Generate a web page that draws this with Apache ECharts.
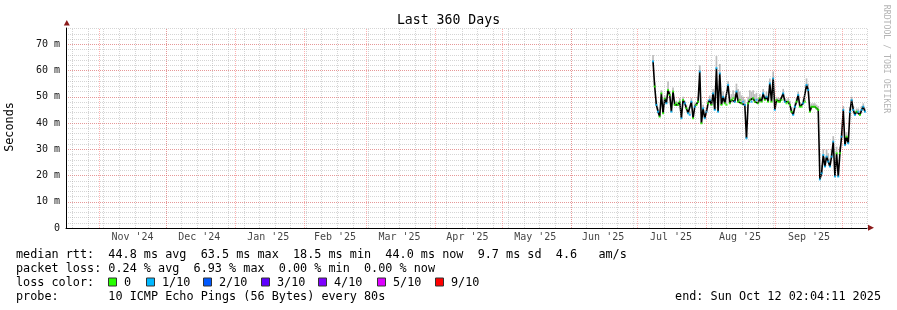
<!DOCTYPE html>
<html><head><meta charset="utf-8">
<script src="https://cdn.jsdelivr.net/npm/echarts@6/dist/echarts.min.js"></script>
<style>html,body{margin:0;padding:0;background:#fff}#c{width:897px;height:310px}</style>
</head><body><div id="c"></div>
<script>
// ---- data ----
const rangeStart = '2024-10-17T02:04:11Z';
const rangeEnd = '2025-10-12T02:04:11Z';
const sampleStart = '2025-07-07T22:00:00Z';
const sampleStepHours = 18;
const medianMs = [
 63.5,53.9,46.9,44.3,42.4,51.3,43.7,49.4,47.5,52.6,50.7,44.3,52.0,46.9,47.5,46.9,
 48.1,41.8,48.8,47.5,45.6,43.7,43.1,48.1,41.8,46.2,46.9,48.1,59.6,39.9,45.6,41.8,
 44.3,47.5,48.8,46.9,51.3,45.0,60.9,44.3,58.9,46.9,50.0,47.5,46.9,54.5,47.5,48.8,
 49.4,48.1,52.0,48.1,48.8,47.5,48.1,46.9,34.2,47.5,48.8,48.1,49.4,48.1,48.8,47.5,
 49.4,48.1,51.3,48.8,50.0,48.1,55.1,48.1,57.0,45.0,48.8,48.1,48.1,48.8,51.3,48.1,
 47.5,48.1,46.9,44.3,43.1,46.2,48.1,50.7,46.2,46.2,47.5,48.1,54.5,52.6,44.3,46.2,
 46.2,46.2,45.6,45.0,18.5,20.8,27.8,23.4,27.2,25.3,23.4,27.2,32.9,19.6,28.5,19.6,
 28.5,34.8,45.0,31.6,34.8,32.3,44.3,48.8,45.0,43.1,44.3,44.3,43.1,45.0,46.2,44.3
];
const smokeHighMs = [
 65.9,55.5,48.5,45.5,43.5,52.5,45.0,50.5,49.0,55.8,52.0,45.5,53.5,48.0,48.5,48.0,
 49.5,43.0,50.0,48.5,47.0,45.0,44.5,49.5,43.0,47.5,48.0,50.0,62.0,41.5,47.0,43.0,
 46.0,49.0,50.5,48.5,53.0,46.5,65.5,46.0,62.5,49.0,52.0,50.0,49.5,56.0,50.0,51.0,
 52.5,51.0,55.0,53.0,52.0,50.5,50.0,49.0,36.0,50.0,52.5,52.0,52.5,51.0,51.5,49.5,
 51.0,50.0,53.0,50.5,52.0,50.0,57.0,50.0,59.6,46.5,50.0,49.5,49.5,50.0,53.0,49.5,
 49.0,49.5,48.5,46.0,44.5,47.5,49.5,52.0,48.0,47.5,49.0,49.5,57.0,55.0,46.0,47.5,
 47.5,47.5,47.0,46.5,21.0,24.0,30.0,27.0,30.0,28.5,26.5,30.0,35.0,23.0,31.0,23.0,
 31.0,37.0,46.5,33.5,36.5,34.0,46.0,50.0,46.5,44.5,45.5,45.5,44.5,46.5,47.5,45.5
];
// loss class per sample: 0 = no loss, 1 = 1/10
const lossClass = [
 1,0,1,1,0,0,0,0,1,0,0,1,0,0,0,0,0,1,0,1,0,1,1,1,0,1,0,0,1,0,1,1,
 1,0,1,0,1,1,1,1,1,0,1,0,0,1,0,0,0,1,1,0,0,0,1,1,1,0,0,1,0,0,1,0,
 0,0,1,0,1,0,1,0,1,1,0,0,0,0,1,1,0,0,0,0,1,1,0,1,0,0,1,0,1,1,0,0,
 0,0,0,0,1,1,1,1,1,1,1,1,1,1,0,1,0,1,1,1,0,1,1,1,1,1,0,1,0,1,1,1
];
const monthStarts = ['2024-11-01','2024-12-01','2025-01-01','2025-02-01','2025-03-01','2025-04-01',
 '2025-05-01','2025-06-01','2025-07-01','2025-08-01','2025-09-01','2025-10-01'];
const monthLabelDates = ['2024-11-16','2024-12-16','2025-01-16','2025-02-15','2025-03-16','2025-04-15T12:00',
 '2025-05-16','2025-06-15T12:00','2025-07-16','2025-08-16','2025-09-16'];
const monthLabels = ["Nov '24","Dec '24","Jan '25","Feb '25","Mar '25","Apr '25","May '25","Jun '25","Jul '25","Aug '25","Sep '25"];
const firstWeekLine = '2024-10-20';
const lossLegendLabels = ['0','1/10','2/10','3/10','4/10','5/10','9/10'];
const lossColors = ['#26ff00','#00b8ff','#0059ff','#5e00ff','#7e00ff','#dd00ff','#ff0000'];
const statLines = [
 'median rtt:  44.8 ms avg  63.5 ms max  18.5 ms min  44.0 ms now  9.7 ms sd  4.6   am/s',
 'packet loss: 0.24 % avg  6.93 % max  0.00 % min  0.00 % now',
 'loss color:',
 'probe:       10 ICMP Echo Pings (56 Bytes) every 80s'
];
const endText = 'end: Sun Oct 12 02:04:11 2025';
const titleText = 'Last 360 Days';
const yAxisName = 'Seconds';
const yMaxMs = 76.2;

// ---- build ----
const toTs = s => { const d = s.length === 10 ? s + 'T00:00:00Z' : (s.endsWith('Z') ? s : s + ':00Z'); return Date.parse(d); };
const t0 = Date.parse(sampleStart), stepMs = sampleStepHours * 3600e3;
const times = medianMs.map((_, i) => t0 + i * stepMs);
const medianData = medianMs.map((v, i) => [times[i], v]);
const smokeData = medianMs.map((v, i) => [times[i], v, smokeHighMs[i]]);
const lossData = medianMs.map((v, i) => ({ value: [times[i], v], itemStyle: { color: lossColors[lossClass[i]] } }));
const endTs = Date.parse(rangeEnd);
const weekLines = [];
for (let t = toTs(firstWeekLine); t < endTs; t += 7 * 86400e3) weekLines.push({ xAxis: t });
const monthLines = monthStarts.map(s => ({ xAxis: toTs(s) }));
const monthLabelData = monthLabelDates.map((s, i) => ({ value: [toTs(s), 0], name: monthLabels[i] }));

const MONO = 'DejaVu Sans Mono';
const legendFont = '11.8px "DejaVu Sans Mono"';
const minorGrid = 'rgba(150,150,150,0.40)';
const majorGrid = 'rgba(255,60,60,0.40)';
const graphics = [];
graphics.push({ type: 'text', x: 10, y: 127, rotation: Math.PI / 2,
  style: { text: yAxisName, font: legendFont, fill: '#000', textAlign: 'center', textVerticalAlign: 'middle', align: 'center', verticalAlign: 'middle' } });
graphics.push({ type: 'text', x: 886, y: 59, rotation: -Math.PI / 2,
  style: { text: 'RRDTOOL / TOBI OETIKER', font: '8.2px "DejaVu Sans Mono"', fill: '#b4b4b4', textAlign: 'center', textVerticalAlign: 'middle', align: 'center', verticalAlign: 'middle' } });
const lineY = [254.5, 268.5, 282.5, 296.5];
statLines.forEach((s, i) => graphics.push({ type: 'text', x: 16, y: lineY[i],
  style: { text: s, font: legendFont, fill: '#000', textVerticalAlign: 'middle', verticalAlign: 'middle' } }));
graphics.push({ type: 'text', x: 881, y: lineY[3],
  style: { text: endText, font: legendFont, fill: '#000', textAlign: 'right', align: 'right', textVerticalAlign: 'middle', verticalAlign: 'middle' } });
const boxX = [108, 146, 203, 261, 318, 377, 435];
lossLegendLabels.forEach((lab, i) => {
  graphics.push({ type: 'rect', shape: { x: boxX[i] + 0.5, y: lineY[2] - 4.5, width: 8, height: 8 },
    style: { fill: lossColors[i], stroke: '#333', lineWidth: 1 } });
  graphics.push({ type: 'text', x: boxX[i] + 16, y: lineY[2],
    style: { text: lab, font: legendFont, fill: '#000', textVerticalAlign: 'middle', verticalAlign: 'middle' } });
});
graphics.push({ type: 'polygon', shape: { points: [[63.8, 25.5], [69.8, 25.5], [66.8, 20]] }, style: { fill: '#8b1a1a' } });
graphics.push({ type: 'polygon', shape: { points: [[868, 224.8], [868, 230.8], [874, 227.8]] }, style: { fill: '#8b1a1a' } });

const chart = echarts.init(document.getElementById('c'), null, { renderer: 'canvas' });
chart.setOption({
  animation: false,
  backgroundColor: '#fff',
  title: { text: titleText, left: 'center', top: 9, textStyle: { fontFamily: MONO, fontSize: 13.2, fontWeight: 'normal', color: '#000' } },
  grid: { left: 66, top: 28, width: 801, height: 200, containLabel: false },
  xAxis: [{ type: 'time', min: Date.parse(rangeStart), max: endTs,
    axisLine: { show: true, lineStyle: { color: '#000', width: 1 } },
    axisTick: { show: false }, axisLabel: { show: false }, splitLine: { show: false } }],
  yAxis: [
    { type: 'value', min: 0, max: yMaxMs, interval: 2, position: 'left',
      axisLine: { show: false }, axisTick: { show: false }, axisLabel: { show: false },
      splitLine: { show: true, showMaxLine: false, showMinLine: false, lineStyle: { color: minorGrid, width: 1, type: [1, 1] } } },
    { type: 'value', min: 0, max: yMaxMs, interval: 10, position: 'left', offset: 0,
      axisLine: { show: true, lineStyle: { color: '#000', width: 1 } }, axisTick: { show: false },
      axisLabel: { margin: 6, fontFamily: MONO, fontSize: 10, color: '#111', showMaxLabel: false,
        formatter: v => v === 0 ? '0' : (v % 10 === 0 ? v + ' m' : '') },
      splitLine: { show: true, showMaxLine: false, showMinLine: false, lineStyle: { color: majorGrid, width: 1, type: [1, 1] } } }
  ],
  graphic: graphics,
  series: [
    { type: 'line', data: [], z: 1, yAxisIndex: 1, silent: true,
      markLine: { silent: true, symbol: ['none', 'none'], label: { show: false }, animation: false,
        lineStyle: { color: minorGrid, width: 1, type: [1, 1] }, data: weekLines } },
    { type: 'line', data: [], z: 1, yAxisIndex: 1, silent: true,
      markLine: { silent: true, symbol: ['none', 'none'], label: { show: false }, animation: false,
        lineStyle: { color: majorGrid, width: 1, type: [1, 1] }, data: monthLines } },
    { type: 'custom', yAxisIndex: 1, z: 2, data: smokeData, silent: true,
      renderItem: (params, api) => {
        const t = api.value(0), m = api.value(1), h = api.value(2);
        const p1 = api.coord([t, m]), p2 = api.coord([t, h]);
        const w = api.size([stepMs, 0])[0];
        return { type: 'rect', shape: { x: p1[0] - w / 2, y: p2[1], width: w, height: p1[1] - p2[1] }, style: { fill: '#bcbcbc' } };
      } },
    { type: 'line', yAxisIndex: 1, z: 3, data: medianData, showSymbol: false, silent: true,
      lineStyle: { color: '#000', width: 1.6 } },
    { type: 'scatter', yAxisIndex: 1, z: 4, data: lossData, symbol: 'rect', symbolSize: [2, 2], silent: true },
    { type: 'scatter', yAxisIndex: 1, z: 4, data: monthLabelData, symbolSize: 0, silent: true, clip: false,
      label: { show: true, position: 'bottom', distance: 4, formatter: p => p.name,
        fontFamily: MONO, fontSize: 10, color: '#111' } }
  ]
});
</script></body></html>
